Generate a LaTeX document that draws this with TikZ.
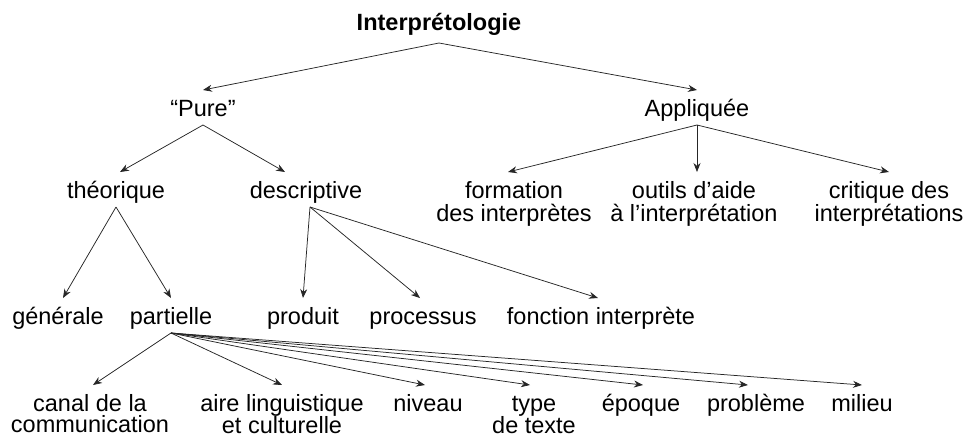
\documentclass[tikz,border=0pt]{standalone}
\usepackage{fontspec}
\setmainfont{Liberation Sans}
\usetikzlibrary{arrows.meta}
\newcommand\topstrut{\rule{0pt}{22pt}}
\tikzset{
  lbl/.style={inner sep=0pt, outer sep=4pt, anchor=base, text height=22pt, text depth=5pt,
    font=\fontsize{23.5}{23}\selectfont},
  lbltwo/.style={inner sep=0pt, outer sep=4pt, anchor=north, align=center,
    font=\fontsize{23.5}{23}\selectfont},
  lblbot/.style={lbltwo, font=\fontsize{23.5}{21.5}\selectfont},
  arr/.style={-{Stealth[length=9pt,width=7pt]}, line width=0.75pt, black!85}
}
\begin{document}
\begin{tikzpicture}[x=1pt,y=-1pt]
\useasboundingbox (0,0) rectangle (964,437);
% level 0
\node[lbl, font=\fontsize{23.5}{23}\selectfont\bfseries, text depth=9pt] (root) at (439,30) {Interprétologie};
% level 1
\node[lbl] (pure) at (203,116) {“Pure”};
\node[lbl] (appl) at (697,116) {Appliquée};
% level 2
\node[lbl] (theo) at (116,198) {théorique};
\node[lbl] (desc) at (306,198) {descriptive};
\node[lbltwo] (form) at (514,172) {\topstrut formation\\des interprètes};
\node[lbltwo] (outi) at (694,172) {\topstrut outils d’aide\\à l’interprétation};
\node[lbltwo] (crit) at (889,172) {\topstrut critique des\\interprétations};
% level 3
\node[lbl] (gen) at (58,324) {générale};
\node[lbl] (part) at (171,324) {partielle};
\node[lbl] (prod) at (303,324) {produit};
\node[lbl] (proc) at (423,324) {processus};
\node[lbl] (fonc) at (601,324) {fonction interprète};
% level 4
\node[lblbot] (canal) at (90,385) {\topstrut canal de la\\communication};
\node[lblbot] (aire) at (282,385) {\topstrut aire linguistique\\et culturelle};
\node[lbl] (niv) at (428,411) {niveau};
\node[lblbot] (type) at (534,385) {\topstrut type\\de texte};
\node[lbl] (epo) at (641,411) {époque};
\node[lbl] (prob) at (756,411) {problème};
\node[lbl] (mil) at (862,411) {milieu};
% connectors
\draw[arr] (root.south) -- (pure.north);
\draw[arr] (root.south) -- (appl.north);
\draw[arr] (pure.south) -- ([xshift=4pt]theo.north);
\draw[arr] (pure.south) -- ([xshift=-21pt]desc.north);
\draw[arr] (appl.south) -- ([xshift=-6pt]form.north);
\draw[arr] (appl.south) -- ([xshift=3pt]outi.north);
\draw[arr] (appl.south) -- (crit.north);
\draw[arr] (theo.south) -- ([xshift=5pt]gen.north);
\draw[arr] (theo.south) -- (part.north);
\draw[arr] ([xshift=4pt]desc.south) -- (prod.north);
\draw[arr] ([xshift=4pt]desc.south) -- ([xshift=-3pt]proc.north);
\draw[arr] ([xshift=4pt]desc.south) -- ([xshift=-3pt]fonc.north);
\draw[arr] (part.south) -- ([xshift=3pt]canal.north);
\draw[arr] (part.south) -- (aire.north);
\draw[arr] (part.south) -- ([xshift=-3pt]niv.north);
\draw[arr] (part.south) -- ([xshift=-4pt]type.north);
\draw[arr] (part.south) -- ([xshift=2pt]epo.north);
\draw[arr] (part.south) -- ([xshift=-8pt]prob.north);
\draw[arr] (part.south) -- (mil.north);
\end{tikzpicture}
\end{document}
